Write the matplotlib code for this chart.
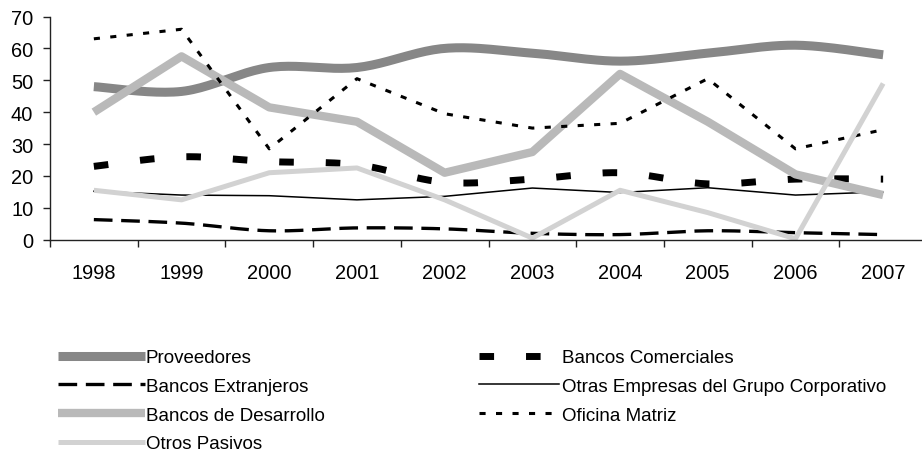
import numpy as np
import matplotlib
matplotlib.use('Agg')
import matplotlib.pyplot as plt

years = ['1998', '1999', '2000', '2001', '2002', '2003', '2004', '2005', '2006', '2007']

proveedores = [48, 46.5, 54, 54, 60, 58.5, 56, 58.5, 61, 58]
bancos_comerciales = [23, 26, 24.5, 23.5, 18, 19, 21, 17.5, 19, 19]
bancos_extranjeros = [6.3, 5.2, 2.8, 3.7, 3.4, 2.0, 1.6, 2.8, 2.2, 1.6]
otras_empresas = [15.2, 14, 13.8, 12.5, 13.6, 16.2, 14.8, 16.3, 14, 15]
bancos_desarrollo = [40, 57.5, 41.5, 37, 21, 27.5, 52, 37, 20.5, 14]
oficina_matriz = [63, 66, 28.5, 50.5, 39.5, 35, 36.5, 50.5, 28.5, 34.5]
otros_pasivos = [15.5, 12.5, 21, 22.5, 12.5, 0.5, 15.5, 8.5, 0.3, 49]

plt.rcParams['font.family'] = ['Liberation Sans', 'DejaVu Sans']
TICK_FS = 14.4
LEG_FS = 13.5


def smooth(x, y, n=24):
    # bezier segments through the points, tangents from neighbours (spreadsheet-style smoothing)
    x = np.asarray(x, float)
    y = np.asarray(y, float)
    px = np.concatenate([[x[0]], x, [x[-1]]])
    py = np.concatenate([[y[0]], y, [y[-1]]])
    t = np.linspace(0, 1, n)[:, None]
    xs, ys = [], []
    for i in range(len(x) - 1):
        p0 = np.array([px[i + 1], py[i + 1]])
        p3 = np.array([px[i + 2], py[i + 2]])
        p1 = p0 + (p3 - np.array([px[i], py[i]])) / 6
        p2 = p3 - (np.array([px[i + 3], py[i + 3]]) - p0) / 6
        seg = ((1 - t) ** 3 * p0 + 3 * (1 - t) ** 2 * t * p1
               + 3 * (1 - t) * t ** 2 * p2 + t ** 3 * p3)
        xs.append(seg[:, 0])
        ys.append(seg[:, 1])
    return np.concatenate(xs), np.concatenate(ys)


fig = plt.figure(figsize=(9.22, 4.52), dpi=100)
ax = fig.add_axes([50 / 922, 211.3 / 452, 877 / 922, 223.2 / 452])

x = np.arange(len(years))

series = [
    ('Proveedores', proveedores, True,
     dict(color='#878787', lw=6.5, solid_capstyle='butt')),
    ('Bancos Comerciales', bancos_comerciales, True,
     dict(color='black', lw=5.0, dashes=(2.1, 4.6), dash_capstyle='butt')),
    ('Bancos Extranjeros', bancos_extranjeros, True,
     dict(color='black', lw=2.4, dashes=(5.6, 2.6), dash_capstyle='butt')),
    ('Otras Empresas del Grupo Corporativo', otras_empresas, False,
     dict(color='black', lw=1.1)),
    ('Bancos de Desarrollo', bancos_desarrollo, False,
     dict(color='#b9b9b9', lw=6.0, solid_capstyle='butt')),
    ('Oficina Matriz', oficina_matriz, False,
     dict(color='black', lw=2.2, dashes=(2.0, 3.4), dash_capstyle='butt')),
    ('Otros Pasivos', otros_pasivos, False,
     dict(color='#d2d2d2', lw=3.6, solid_capstyle='butt')),
]

handles = {}
for name, vals, smoothed, style in series:
    if smoothed:
        sx, sy = smooth(x, vals)
    else:
        sx, sy = x, np.asarray(vals, float)
    line, = ax.plot(sx, sy, label=name, **style)
    handles[name] = line

ax.set_xlim(-0.5, len(years) - 0.5)
ax.set_ylim(0, 70)
ax.set_yticks(range(0, 71, 10))
ax.set_xticks(x)
ax.set_xticklabels(years)
ax.set_xticks(np.arange(-0.5, len(years), 1), minor=True)

for side in ('top', 'right'):
    ax.spines[side].set_visible(False)
for side in ('left', 'bottom'):
    ax.spines[side].set_linewidth(1.0)
    ax.spines[side].set_color('#222222')

ax.tick_params(axis='y', length=5, width=1, color='#222222', pad=7, labelsize=TICK_FS)
ax.tick_params(axis='x', which='major', length=0, pad=17, labelsize=TICK_FS)
ax.tick_params(axis='x', which='minor', length=5, width=1, color='#222222')

left_names = ['Proveedores', 'Bancos Extranjeros', 'Bancos de Desarrollo', 'Otros Pasivos']
right_names = ['Bancos Comerciales', 'Otras Empresas del Grupo Corporativo', 'Oficina Matriz']

fig.legend([handles[n] for n in left_names], left_names,
           loc='upper left', bbox_to_anchor=(58 / 922, 1 - 350 / 452),
           frameon=False, fontsize=LEG_FS, handlelength=4.64, handletextpad=0.05,
           labelspacing=0.62, borderpad=0, borderaxespad=0)
fig.legend([handles[n] for n in right_names], right_names,
           loc='upper left', bbox_to_anchor=(479 / 922, 1 - 350 / 452),
           frameon=False, fontsize=LEG_FS, handlelength=4.27, handletextpad=0.15,
           labelspacing=0.62, borderpad=0, borderaxespad=0)

fig.savefig('out.png', dpi=100)
